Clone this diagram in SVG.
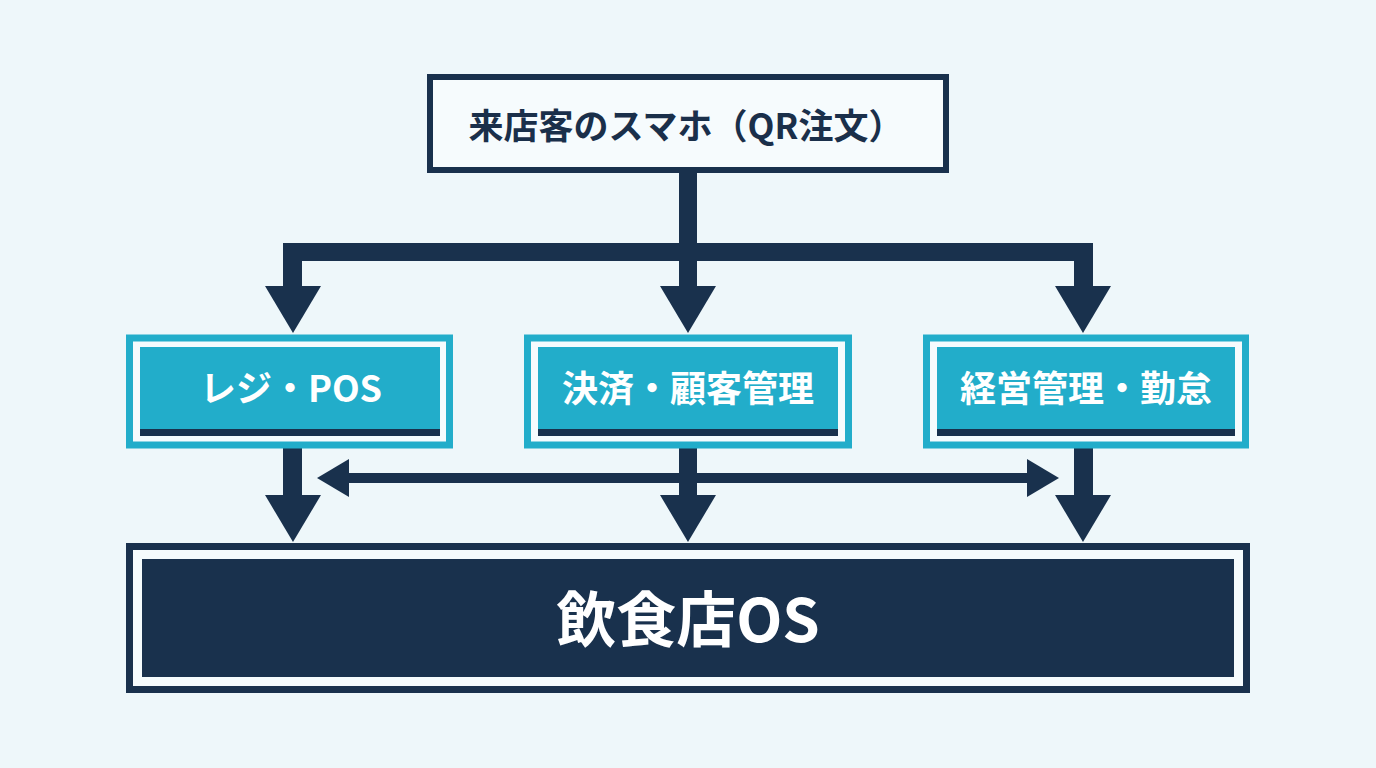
<svg xmlns="http://www.w3.org/2000/svg" width="1376" height="768" viewBox="0 0 1376 768">
<style>
.bg{fill:#EEF7FA}
.navy{fill:#19314D}
.teal{fill:#22ADCA}
.gap{fill:#F5FBFD}
.lbl{font-family:"Noto Sans CJK JP","Noto Sans",sans-serif;font-weight:700;text-anchor:middle}
.top{font-size:35px;fill:#1A2F4A}
.mod{font-size:36px;fill:#FFFFFF}
.os{font-size:60px;fill:#FFFFFF}
</style>
<rect class="bg" x="0" y="0" width="1376" height="768"/>
<g id="connectors" class="navy">
  <rect x="679" y="172" width="18" height="80"/>
  <rect x="283" y="243" width="810" height="18"/>
  <rect x="283" y="243" width="19" height="45"/>
  <polygon points="265,286 321,286 293,333"/>
  <rect x="679" y="243" width="18" height="45"/>
  <polygon points="660,286 716,286 688,333"/>
  <rect x="1074" y="243" width="19" height="45"/>
  <polygon points="1055,286 1111,286 1083,333"/>
  <rect x="283" y="447" width="19" height="50"/>
  <polygon points="265,495 321,495 293,542"/>
  <rect x="679" y="447" width="18" height="50"/>
  <polygon points="660,495 716,495 688,542"/>
  <rect x="1074" y="447" width="19" height="50"/>
  <polygon points="1055,495 1111,495 1083,542"/>
  <rect x="347" y="473" width="682" height="10"/>
  <polygon points="317,478 349,459 349,497"/>
  <polygon points="1059,478 1027,459 1027,497"/>
</g>
<g id="node-smartphone">
  <rect x="430" y="77" width="516" height="93" fill="#F6FBFD" stroke="#19314D" stroke-width="6"/>
  <text class="lbl top" x="686" y="139">来店客のスマホ（QR注文）</text>
</g>
<g id="node-pos">
  <rect x="129.5" y="338" width="320" height="107" class="gap" stroke="#22ADCA" stroke-width="7"/>
  <rect class="teal" x="140" y="347" width="300" height="89"/>
  <rect class="navy" x="140" y="429" width="300" height="7"/>
  <text class="lbl mod" x="291" y="402">レジ・POS</text>
</g>
<g id="node-payment">
  <rect x="527.5" y="338" width="321" height="107" class="gap" stroke="#22ADCA" stroke-width="7"/>
  <rect class="teal" x="538" y="347" width="300" height="89"/>
  <rect class="navy" x="538" y="429" width="300" height="7"/>
  <text class="lbl mod" x="688" y="402">決済・顧客管理</text>
</g>
<g id="node-management">
  <rect x="926.5" y="338" width="319" height="107" class="gap" stroke="#22ADCA" stroke-width="7"/>
  <rect class="teal" x="937" y="347" width="298" height="89"/>
  <rect class="navy" x="937" y="429" width="298" height="7"/>
  <text class="lbl mod" x="1086" y="402">経営管理・勤怠</text>
</g>
<g id="node-os">
  <rect x="129.5" y="546.5" width="1117" height="143" class="gap" stroke="#19314D" stroke-width="7"/>
  <rect class="navy" x="142" y="559" width="1092" height="118"/>
  <text class="lbl os" x="688" y="642">飲食店OS</text>
</g>
</svg>
